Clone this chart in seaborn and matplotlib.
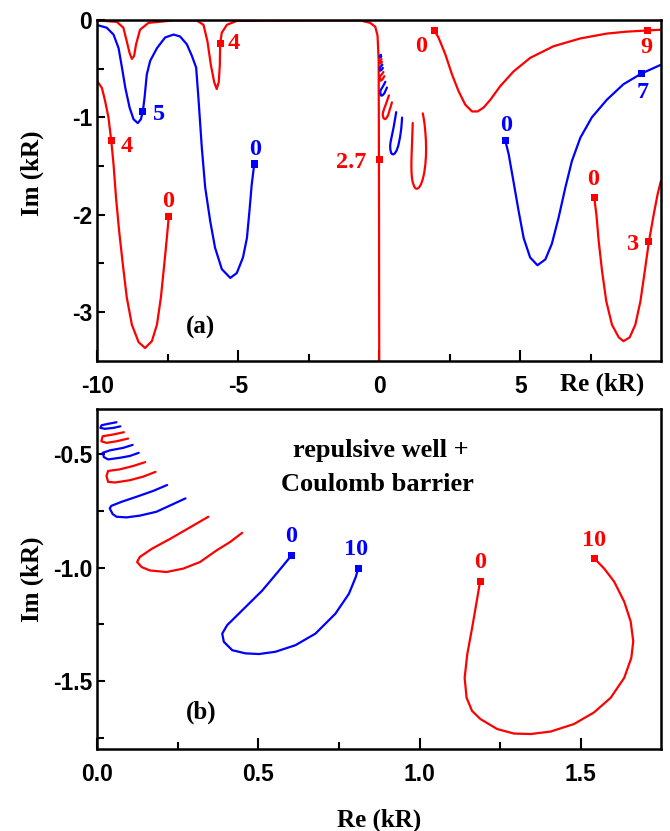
import matplotlib
matplotlib.use("Agg")
import matplotlib.pyplot as plt
import seaborn as sns
import pandas as pd

# ---------------- panel (a): trajectories in the complex kR plane ----------------
a1_x = [-9.99, -9.30, -9.07, -8.95, -8.85, -8.77, -8.69, -8.62, -8.48, -8.18, -7.29,
        -6.47, -6.23, -6.09, -5.97, -5.85, -5.76, -5.69, -5.65, -5.64, -5.58, -5.40, -5.05,
        -2.0, -0.67, -0.32, -0.14, -0.06, -0.02, -0.01, 0.0]
a1_y = [-0.005, -0.02, -0.08, -0.22, -0.34, -0.40, -0.37, -0.25, -0.10, -0.03, -0.005,
        -0.005, -0.05, -0.22, -0.46, -0.64, -0.71, -0.64, -0.46, -0.24, -0.13, -0.05, -0.01,
        -0.005, -0.005, -0.03, -0.07, -0.16, -0.41, -1.5, -3.5]

a2_x = [-9.99, -9.83, -9.72, -9.60, -9.50, -9.42, -9.33, -9.22, -9.09, -8.95, -8.77,
        -8.53, -8.30, -8.06, -7.88, -7.74, -7.62, -7.53, -7.46]
a2_y = [-0.63, -0.70, -0.83, -1.00, -1.24, -1.48, -1.83, -2.17, -2.51, -2.85, -3.13,
        -3.31, -3.37, -3.30, -3.13, -2.85, -2.51, -2.24, -2.02]

a3_x = [-9.99, -9.66, -9.42, -9.24, -9.12, -9.0, -8.85, -8.71, -8.56, -8.45, -8.38, -8.32,
        -8.24, -8.12, -7.88, -7.59, -7.29, -7.06, -6.82, -6.64, -6.49, -6.41, -6.29, -6.17,
        -5.99, -5.82, -5.58, -5.28, -5.05, -4.83, -4.69, -4.60, -4.52, -4.43]
a3_y = [-0.053, -0.08, -0.15, -0.29, -0.49, -0.70, -0.90, -1.02, -1.06, -1.02, -0.94, -0.80,
        -0.56, -0.42, -0.29, -0.18, -0.15, -0.17, -0.25, -0.37, -0.49, -0.80, -1.31, -1.72,
        -2.07, -2.34, -2.56, -2.65, -2.60, -2.44, -2.24, -1.96, -1.69, -1.48]

a4_x = [1.95, 2.10, 2.34, 2.58, 2.81, 3.05, 3.29, 3.49, 3.70, 3.94, 4.29, 4.76, 5.35,
        6.18, 7.13, 8.07, 8.78, 9.52, 9.99]
a4_y = [-0.105, -0.18, -0.35, -0.56, -0.73, -0.87, -0.94, -0.94, -0.90, -0.82, -0.68, -0.53,
        -0.39, -0.27, -0.19, -0.14, -0.12, -0.108, -0.10]

a5_x = [4.47, 4.59, 4.76, 4.94, 5.12, 5.35, 5.61, 5.89, 6.12, 6.36, 6.60, 6.83, 7.13, 7.54,
        8.07, 8.66, 9.30, 9.99]
a5_y = [-1.24, -1.38, -1.66, -1.96, -2.24, -2.44, -2.52, -2.46, -2.30, -2.03, -1.72, -1.45,
        -1.21, -1.00, -0.82, -0.66, -0.55, -0.46]

a6_x = [7.62, 7.70, 7.78, 7.90, 8.05, 8.25, 8.49, 8.66, 8.88, 9.08, 9.26, 9.40, 9.56, 9.73,
        9.87, 9.99]
a6_y = [-1.82, -2.00, -2.27, -2.58, -2.89, -3.13, -3.26, -3.30, -3.26, -3.13, -2.89, -2.61,
        -2.28, -2.00, -1.79, -1.65]

# ---------------- small trajectories near the origin (both panels) ----------------
h1_x = [0.060, 0.034, 0.014, 0.010, 0.024, 0.050, 0.072]
h1_y = [-0.358, -0.365, -0.371, -0.383, -0.387, -0.383, -0.376]
h2_x = [0.083, 0.050, 0.017, 0.013, 0.029, 0.060, 0.096]
h2_y = [-0.402, -0.412, -0.420, -0.442, -0.449, -0.442, -0.430]
h3_x = [0.110, 0.081, 0.040, 0.017, 0.021, 0.034, 0.070, 0.101, 0.129]
h3_y = [-0.458, -0.471, -0.482, -0.493, -0.512, -0.522, -0.515, -0.507, -0.493]
h4_x = [0.149, 0.112, 0.070, 0.034, 0.029, 0.034, 0.055, 0.101, 0.143, 0.181]
h4_y = [-0.534, -0.551, -0.566, -0.573, -0.595, -0.621, -0.624, -0.614, -0.598, -0.577]
h5_x = [0.217, 0.174, 0.122, 0.076, 0.044, 0.039, 0.048, 0.060, 0.091, 0.133, 0.184, 0.236, 0.274]
h5_y = [-0.635, -0.661, -0.687, -0.709, -0.727, -0.738, -0.763, -0.775, -0.778, -0.770,
        -0.753, -0.719, -0.694]
h6_x = [0.345, 0.288, 0.226, 0.169, 0.132, 0.124, 0.138, 0.163, 0.215, 0.267, 0.319, 0.370,
        0.412, 0.450]
h6_y = [-0.775, -0.822, -0.873, -0.917, -0.953, -0.975, -0.997, -1.012, -1.019, -1.004,
        -0.975, -0.924, -0.887, -0.846]
l7_x = [0.602, 0.564, 0.512, 0.450, 0.403, 0.388, 0.393, 0.419, 0.460, 0.502, 0.553, 0.615,
        0.677, 0.739, 0.781, 0.802, 0.810]
l7_y = [-0.947, -1.013, -1.101, -1.188, -1.254, -1.291, -1.327, -1.364, -1.378, -1.381,
        -1.371, -1.342, -1.291, -1.203, -1.115, -1.042, -1.003]
l8_x = [1.188, 1.179, 1.163, 1.148, 1.140, 1.146, 1.163, 1.189, 1.241, 1.293, 1.345, 1.407,
        1.479, 1.541, 1.593, 1.635, 1.657, 1.663, 1.655, 1.635, 1.604, 1.573, 1.543]
l8_y = [-1.059, -1.135, -1.267, -1.383, -1.486, -1.574, -1.632, -1.668, -1.712, -1.732,
        -1.734, -1.723, -1.690, -1.639, -1.574, -1.486, -1.398, -1.325, -1.237, -1.150,
        -1.062, -1.004, -0.960]

# labelled points
a_mark_x = [-5.64, -8.38, -9.50, -4.43, -7.46, 0.0, 1.95, 9.52, 9.30, 4.47, 7.62, 9.56]
a_mark_y = [-0.24, -0.94, -1.24, -1.48, -2.02, -1.43, -0.105, -0.108, -0.55, -1.24, -1.82, -2.28]
a_mark_lab = ["4", "5", "4", "0", "0", "2.7", "0", "9", "7", "0", "0", "3"]
a_mark_col = ["r", "b", "r", "b", "r", "r", "r", "r", "b", "b", "r", "r"]

b_mark_x = [0.602, 0.810, 1.188, 1.543]
b_mark_y = [-0.947, -1.003, -1.059, -0.960]
b_mark_lab = ["0", "10", "0", "10"]
b_mark_col = ["b", "b", "r", "r"]

RED = "#ff0000"
BLUE = "#0000ff"
cmap = {"r": RED, "b": BLUE}

sns.set_style("white")
plt.rcParams["font.family"] = ["Liberation Serif", "DejaVu Serif"]
plt.rcParams["axes.unicode_minus"] = False
plt.rcParams["text.color"] = "black"
plt.rcParams["axes.labelcolor"] = "black"
plt.rcParams["xtick.color"] = "black"
plt.rcParams["ytick.color"] = "black"

fig = plt.figure(figsize=(6.7, 8.31), dpi=100)
axA = fig.add_axes([0.145, 0.566, 0.842, 0.410])
axB = fig.add_axes([0.145, 0.0987, 0.842, 0.409])

LW = 1.6


def line(ax, xs, ys, col):
    df = pd.DataFrame({"x": xs, "y": ys})
    sns.lineplot(data=df, x="x", y="y", sort=False, estimator=None, color=col,
                 linewidth=LW, ax=ax, legend=False)


# panel (a)
line(axA, a1_x, a1_y, RED)
line(axA, a2_x, a2_y, RED)
line(axA, a3_x, a3_y, BLUE)
line(axA, a4_x, a4_y, RED)
line(axA, a5_x, a5_y, BLUE)
line(axA, a6_x, a6_y, RED)

small = [(h1_x, h1_y, BLUE), (h2_x, h2_y, RED), (h3_x, h3_y, BLUE), (h4_x, h4_y, RED),
         (h5_x, h5_y, BLUE), (h6_x, h6_y, RED), (l7_x, l7_y, BLUE), (l8_x, l8_y, RED)]
for xs, ys, c in small:
    line(axA, xs, ys, c)
    line(axB, xs, ys, c)

DIG = 17.5
# markers + labels
offA = [(14, 0), (16, -3), (15, -6), (1, 15), (-1, 15), (-28, -3), (-13, -16), (-1, -17),
        (1, -19), (1, 15), (-1, 18), (-16, -3)]
dfA = pd.DataFrame({"x": a_mark_x, "y": a_mark_y, "c": a_mark_col})
sns.scatterplot(data=dfA, x="x", y="y", hue="c", palette=cmap, marker="s", s=26,
                linewidth=0, ax=axA, legend=False, zorder=5)
for x, y, t, c, o in zip(a_mark_x, a_mark_y, a_mark_lab, a_mark_col, offA):
    axA.annotate(t, (x, y), xytext=o, textcoords="offset pixels", ha="center", va="center",
                 color=cmap[c], fontsize=DIG, fontweight="bold")

offB = [(0, 19), (-2, 19), (0, 19), (0, 18)]
dfB = pd.DataFrame({"x": b_mark_x, "y": b_mark_y, "c": b_mark_col})
sns.scatterplot(data=dfB, x="x", y="y", hue="c", palette=cmap, marker="s", s=26,
                linewidth=0, ax=axB, legend=False, zorder=5)
for x, y, t, c, o in zip(b_mark_x, b_mark_y, b_mark_lab, b_mark_col, offB):
    axB.annotate(t, (x, y), xytext=o, textcoords="offset pixels", ha="center", va="center",
                 color=cmap[c], fontsize=DIG, fontweight="bold")

# axes formatting
axA.set_xlim(-10, 10)
axA.set_ylim(-3.5, 0)
axA.set_xticks([-10, -5, 0, 5])
axA.set_xticks([-7.5, -2.5, 2.5, 7.5], minor=True)
axA.set_yticks([-3, -2, -1, 0])
axA.set_yticks([-2.5, -1.5, -0.5], minor=True)
axA.set_xticklabels(["-10", "-5", "0", "5"])
axA.set_yticklabels(["-3", "-2", "-1", "0"])

axB.set_xlim(0, 1.75)
axB.set_ylim(-1.8, -0.3)
axB.set_xticks([0, 0.5, 1.0, 1.5])
axB.set_xticks([0.25, 0.75, 1.25], minor=True)
axB.set_yticks([-1.5, -1.0, -0.5])
axB.set_yticks([-1.75, -1.25, -0.75], minor=True)
axB.set_xticklabels(["0.0", "0.5", "1.0", "1.5"])
axB.set_yticklabels(["-1.5", "-1.0", "-0.5"])

for ax in (axA, axB):
    for sp in ax.spines.values():
        sp.set_visible(True)
        sp.set_color("black")
        sp.set_linewidth(1.8)
    ax.tick_params(which="both", direction="in", bottom=True, left=True, top=False,
                   right=False, width=1.5, colors="black")
    ax.tick_params(axis="x", which="major", length=8, pad=10)
    ax.tick_params(axis="x", which="minor", length=5)
    ax.tick_params(axis="y", which="major", length=6, pad=3.5)
    ax.tick_params(axis="y", which="minor", length=5)
    for lab in ax.get_xticklabels() + ax.get_yticklabels():
        lab.set_fontfamily(["Liberation Sans", "DejaVu Sans"])
        lab.set_fontweight("bold")
        lab.set_fontsize(16.5)
    ax.set_ylabel("Im (kR)", fontsize=18, fontweight="bold")
    ax.set_xlabel("")

axA.yaxis.set_label_coords(-0.095, 0.55)
axB.yaxis.set_label_coords(-0.095, 0.50)
axA.text(0.895, -0.068, "Re (kR)", transform=axA.transAxes, ha="center", va="center",
         fontsize=18, fontweight="bold")
axB.set_xlabel("Re (kR)", fontsize=18, fontweight="bold", labelpad=16)

axA.text(-6.35, -3.16, "(a)", ha="center", va="center", fontsize=18, fontweight="bold")
axB.text(0.322, -1.64, "(b)", ha="center", va="center", fontsize=18, fontweight="bold")
axB.text(0.88, -0.481, "repulsive well +", ha="center", va="center", fontsize=19,
         fontweight="bold")
axB.text(0.87, -0.632, "Coulomb barrier", ha="center", va="center", fontsize=19,
         fontweight="bold")

fig.savefig("out.png", dpi=100)
